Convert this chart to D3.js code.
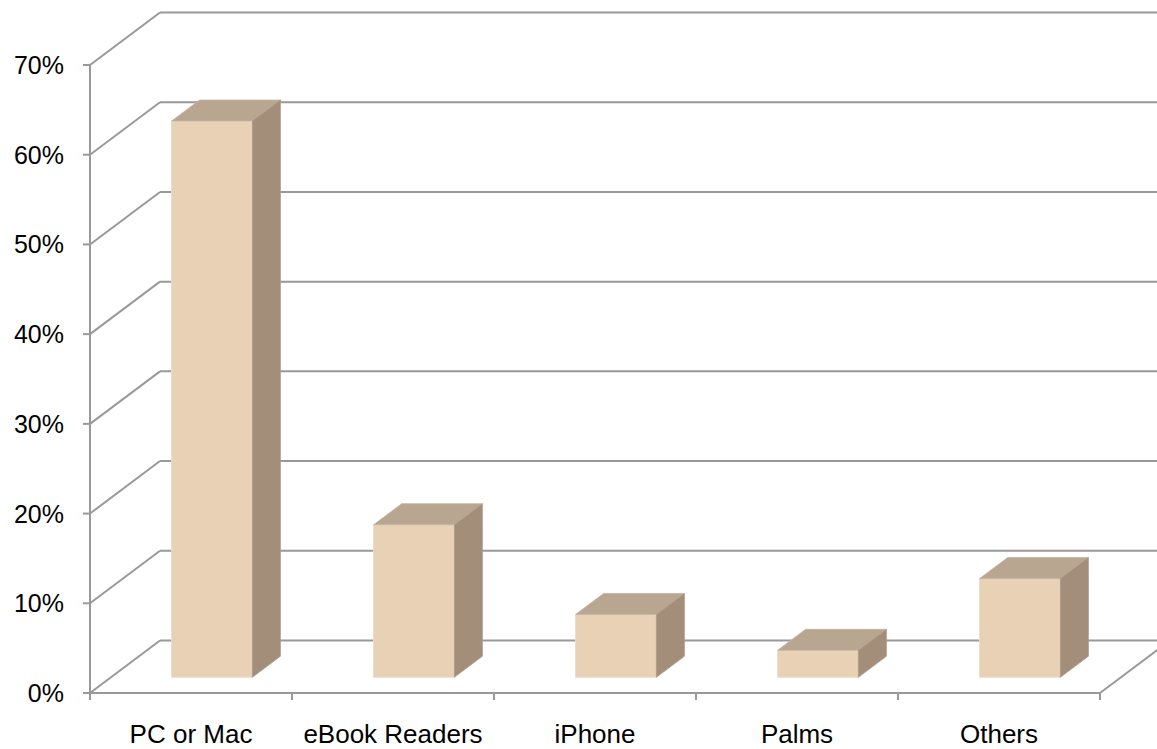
<!DOCTYPE html>
<html>
<head>
<meta charset="utf-8">
<script src="https://cdn.jsdelivr.net/npm/d3@7"></script>
<style>
  html, body { margin: 0; padding: 0; background: #fff; }
  svg { display: block; }
  text { font-family: "Liberation Sans", Arial, sans-serif; fill: #000; }
</style>
</head>
<body>
<svg id="chart" width="1157" height="749"></svg>
<script>
const categories = ["PC or Mac", "eBook Readers", "iPhone", "Palms", "Others"];
const values = [0.62, 0.17, 0.07, 0.03, 0.11];
const yTicks = [0, 0.1, 0.2, 0.3, 0.4, 0.5, 0.6, 0.7];

const W = 1157, H = 749;
const svg = d3.select("#chart");

const x0 = 90, x1 = 1100;
const y = d3.scaleLinear().domain([0, 0.7]).range([693, 65]);
const x = d3.scaleBand().domain(categories).range([x0, x1]).paddingInner(0.6).paddingOuter(0.3);
const xCat = d3.scaleBand().domain(categories).range([x0, x1]);

// depth projection
const DX = 70, DY = -52.5;
const z0 = 0.3, z1 = 0.7;
const P = (px, v, z) => [px + DX * z, y(v) + DY * z];

const gridColor = "#999999";
const g = svg.append("g");

// back wall gridlines + side slants
yTicks.forEach(t => {
  const [bx, by] = P(x0, t, 1);
  g.append("line").attr("x1", bx).attr("y1", by).attr("x2", x1 + DX).attr("y2", by)
    .attr("stroke", gridColor).attr("stroke-width", 2);
  g.append("line").attr("x1", x0).attr("y1", y(t)).attr("x2", bx).attr("y2", by)
    .attr("stroke", gridColor).attr("stroke-width", 2);
  // y tick
  g.append("line").attr("x1", x0 - 7).attr("y1", y(t)).attr("x2", x0).attr("y2", y(t))
    .attr("stroke", gridColor).attr("stroke-width", 2);
  // label
  g.append("text").attr("x", 64).attr("y", y(t) + 9).attr("text-anchor", "end")
    .attr("font-size", 25).text(d3.format(".0%")(t));
});

// front vertical axis
g.append("line").attr("x1", x0).attr("y1", y(0.7)).attr("x2", x0).attr("y2", y(0))
  .attr("stroke", gridColor).attr("stroke-width", 2);
// floor front edge
g.append("line").attr("x1", x0).attr("y1", y(0)).attr("x2", x1).attr("y2", y(0))
  .attr("stroke", gridColor).attr("stroke-width", 2);
// floor right slant
{
  const [bx, by] = P(x1, 0, 1);
  g.append("line").attr("x1", x1).attr("y1", y(0)).attr("x2", bx).attr("y2", by)
    .attr("stroke", gridColor).attr("stroke-width", 2);
}
// x ticks at category boundaries
const bounds = categories.map(c => xCat(c)).concat([x1]);
bounds.forEach(b => {
  g.append("line").attr("x1", b).attr("y1", y(0)).attr("x2", b).attr("y2", y(0) + 7)
    .attr("stroke", gridColor).attr("stroke-width", 2);
});

// bars
const frontC = "#e8d1b5", topC = "#b9a690", sideC = "#a28e79";
categories.forEach((c, i) => {
  const v = values[i];
  const xl = x(c), xr = x(c) + x.bandwidth();
  const fbl = P(xl, 0, z0), fbr = P(xr, 0, z0), ftl = P(xl, v, z0), ftr = P(xr, v, z0);
  const btl = P(xl, v, z1), btr = P(xr, v, z1), bbr = P(xr, 0, z1);
  const poly = pts => pts.map(p => p.join(",")).join(" ");
  g.append("polygon").attr("points", poly([fbl, fbr, ftr, ftl])).attr("fill", frontC)
    .attr("stroke", "#eadccb").attr("stroke-width", 1);
  g.append("polygon").attr("points", poly([ftl, ftr, btr, btl])).attr("fill", topC)
    .attr("stroke", "#c4b4a2").attr("stroke-width", 0.8);
  g.append("polygon").attr("points", poly([fbr, bbr, btr, ftr])).attr("fill", sideC)
    .attr("stroke", "#ad9c89").attr("stroke-width", 0.8);
});

// category labels
categories.forEach(c => {
  g.append("text").attr("x", xCat(c) + xCat.bandwidth() / 2).attr("y", 743)
    .attr("text-anchor", "middle").attr("font-size", 26).text(c);
});
</script>
</body>
</html>
